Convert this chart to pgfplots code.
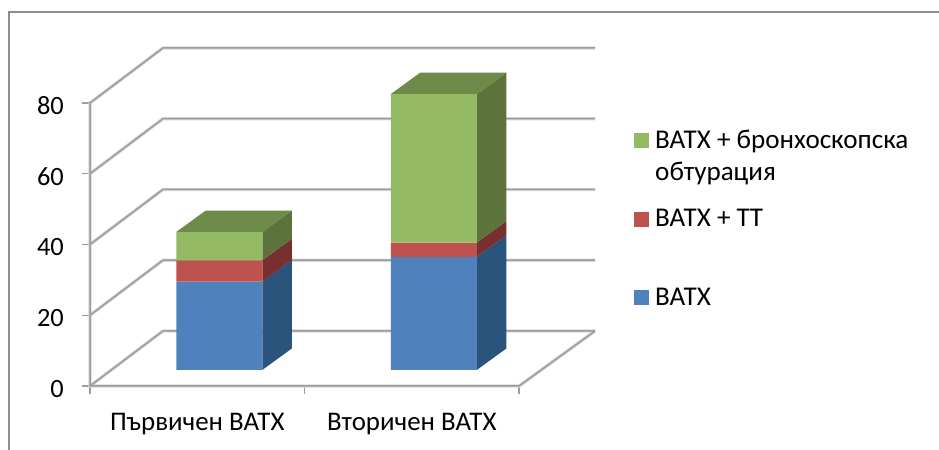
\documentclass[border=0pt]{standalone}
\usepackage{pgfplots}
\pgfplotsset{compat=1.18}
\usepackage{fontspec}
\setmainfont{Carlito}
\definecolor{gridc}{HTML}{9C9C9C}
\definecolor{gridl}{HTML}{D8D8D8}
\definecolor{framec}{HTML}{8E8E8E}
\definecolor{frontb}{HTML}{4F81BD}
\definecolor{frontr}{HTML}{BE524F}
\definecolor{frontg}{HTML}{95BA64}
\definecolor{sideb}{HTML}{2A547B}
\definecolor{sider}{HTML}{772F30}
\definecolor{sideg}{HTML}{5C743B}
\definecolor{topg}{HTML}{6D8A49}
\begin{document}
\begin{tikzpicture}[x=1bp,y=1bp]
\useasboundingbox (0,0) rectangle (939,450);
\draw[color=framec,line width=1.5bp] (9,0) -- (9,438) -- (939,438);
\begin{axis}[
  at={(90bp,64bp)},anchor=south west,
  scale only axis,width=505bp,height=338bp,
  xmin=0,xmax=2.354,ymin=0,ymax=95.55,
  clip=false,
  axis x line*=bottom,axis y line*=left,
  axis line style={draw=none},
  separate axis lines,
  xtick={0,1,2},xticklabels={},
  extra x ticks={0.5,1.5},
  extra x tick labels={Първичен ВАТХ,Вторичен ВАТХ},
  extra x tick style={major tick length=0pt,tick style={draw=none}},
  ytick={0,20,40,60,80},
  tick style={draw=gridc,line width=1.2bp},
  tick align=outside,major tick length=8bp,
  /pgf/number format/assume math mode=true,
  xticklabel style={font=\fontsize{27}{30}\selectfont,yshift=-27bp},
  yticklabel style={font=\fontsize{26.5}{30}\selectfont,xshift=-18bp,yshift=-3bp},
  every tick label/.append style={inner sep=0pt},
  legend style={at={(axis cs:2.535,72.4)},anchor=north west,draw=none,fill=none,
    font=\fontsize{27.2}{32}\selectfont,row sep=59.5bp,inner sep=0pt,
    nodes={inner sep=0pt}},
  legend cell align=left,
  legend image code/.code={\fill[#1,draw=none] (0bp,-8bp) rectangle (15bp,7bp); \path (21bp,0bp);},
]
% legend keys
\addlegendimage{fill=frontg}
\addlegendentry{\parbox[t]{270bp}{ВАТХ + бронхоскопска\\обтурация}}
\addlegendimage{fill=frontr}
\addlegendentry{\parbox[t]{270bp}{ВАТХ + ТТ}}
\addlegendimage{fill=frontb}
\addlegendentry{\parbox[t]{270bp}{ВАТХ}}
% walls and floor, soft halo first
\pgfplotsinvokeforeach{0,20,40,60,80}{
  \addplot[forget plot,gridl,line width=3.4bp,line join=round] coordinates {(0,#1) (0.340,#1+15.55) (2.354,#1+15.55)};
}
\addplot[forget plot,gridl,line width=3.4bp] coordinates {(0,80) (0,0) (2,0) (2.354,15.55)};
\pgfplotsinvokeforeach{0,20,40,60,80}{
  \addplot[forget plot,gridc,line width=1.5bp,line join=round] coordinates {(0,#1) (0.340,#1+15.55) (2.354,#1+15.55)};
}
\addplot[forget plot,gridc,line width=1.5bp] coordinates {(0,80) (0,0) (2,0) (2.354,15.55)};
% side and top faces: x in category units, y = cumulative value
\addplot[forget plot,xshift=22bp,yshift=16bp,draw=none,fill=sideb] coordinates {(0.7005,0) (0.838,6.08) (0.838,31.08) (0.7005,25)} -- cycle;
\addplot[forget plot,xshift=22bp,yshift=16bp,draw=none,fill=sider] coordinates {(0.7005,25) (0.838,31.08) (0.838,37.08) (0.7005,31)} -- cycle;
\addplot[forget plot,xshift=22bp,yshift=16bp,draw=none,fill=sideg] coordinates {(0.7005,31) (0.838,37.08) (0.838,45.08) (0.7005,39)} -- cycle;
\addplot[forget plot,xshift=22bp,yshift=16bp,draw=none,fill=topg] coordinates {(0.2995,39) (0.7005,39) (0.838,45.08) (0.437,45.08)} -- cycle;
\addplot[forget plot,xshift=22bp,yshift=16bp,draw=none,fill=sideb] coordinates {(1.7005,0) (1.838,6.08) (1.838,38.08) (1.7005,32)} -- cycle;
\addplot[forget plot,xshift=22bp,yshift=16bp,draw=none,fill=sider] coordinates {(1.7005,32) (1.838,38.08) (1.838,42.08) (1.7005,36)} -- cycle;
\addplot[forget plot,xshift=22bp,yshift=16bp,draw=none,fill=sideg] coordinates {(1.7005,36) (1.838,42.08) (1.838,84.08) (1.7005,78)} -- cycle;
\addplot[forget plot,xshift=22bp,yshift=16bp,draw=none,fill=topg] coordinates {(1.2995,78) (1.7005,78) (1.838,84.08) (1.437,84.08)} -- cycle;
% front faces: stacked bars
\addplot[forget plot,xshift=22bp,yshift=16bp,ybar,stack plots=y,bar width=86bp,bar shift=0pt,draw=none,fill=frontb] coordinates {(0.5,25) (1.5,32)};
\addplot[forget plot,xshift=22bp,yshift=16bp,ybar,stack plots=y,bar width=86bp,bar shift=0pt,draw=none,fill=frontr] coordinates {(0.5,6) (1.5,4)};
\addplot[forget plot,xshift=22bp,yshift=16bp,ybar,stack plots=y,bar width=86bp,bar shift=0pt,draw=none,fill=frontg] coordinates {(0.5,8) (1.5,42)};
\end{axis}
\end{tikzpicture}
\end{document}
